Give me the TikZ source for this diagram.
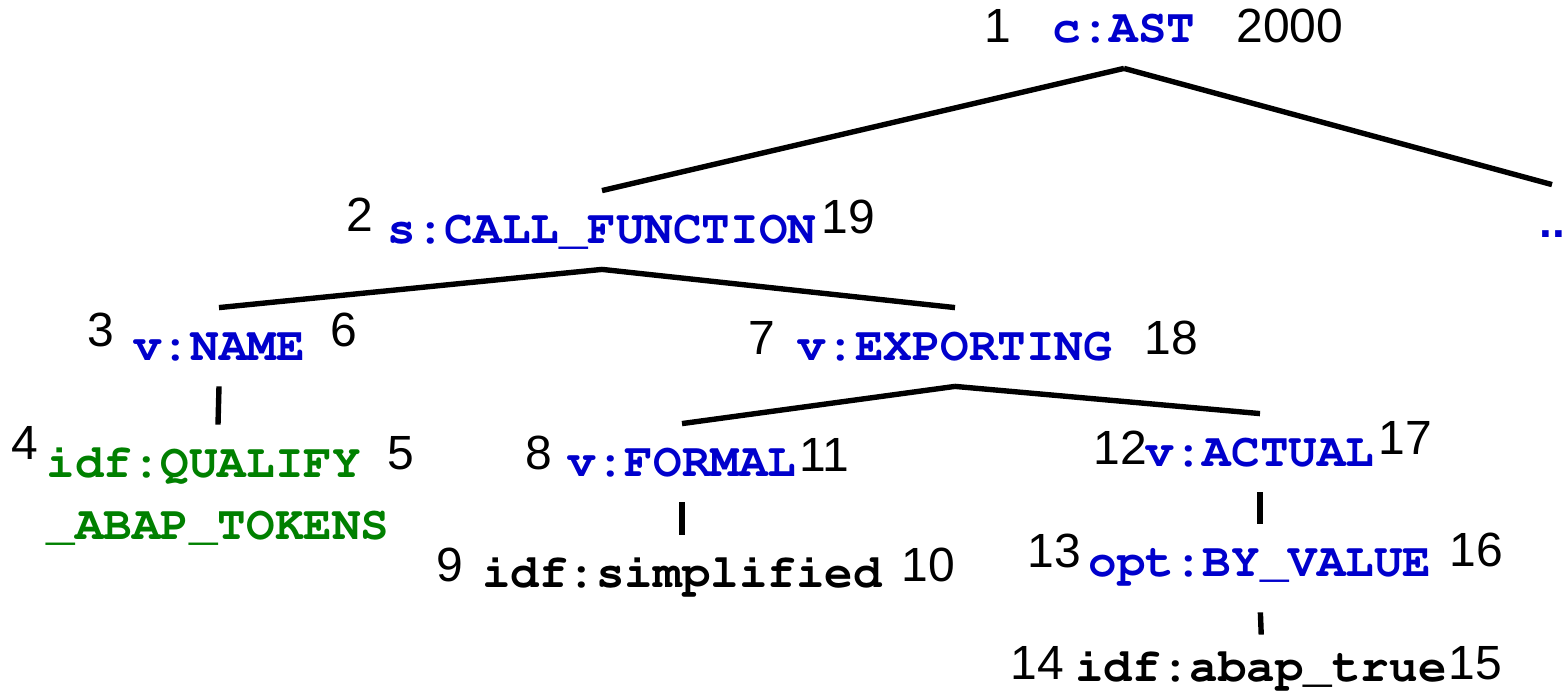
\documentclass[tikz,border=0pt]{standalone}
\usepackage[T1]{fontenc}
\usepackage{fontspec}
\setmainfont{Liberation Sans}
\usepackage{tikz}

% Courier (pcr) fuer die Knotennamen
\newcommand{\abapfont}{\fontencoding{T1}\fontfamily{pcr}\fontseries{b}\selectfont}

\definecolor{astblue}{RGB}{0,0,204}
\definecolor{idfgreen}{RGB}{0,128,0}

\tikzset{
    lbl/.style={font=\fontsize{23.8}{31}\abapfont, text height=14pt, text depth=0pt,
        inner xsep=0pt, inner ysep=12.5pt, anchor=base},
    num/.style={font=\fontsize{24}{28}\selectfont, inner sep=0pt, anchor=base},
    edge/.style={line width=2.7pt},
}

\begin{document}
\begin{tikzpicture}[x=0.5pt, y=-0.5pt]
    \useasboundingbox (0,0) rectangle (1564,694);
    % Knoten des Baums
    \node[lbl, astblue] (ast) at (1124,43) {c:AST};
    \node[lbl, astblue] (call) at (602,244) {s:CALL\_FUNCTION};
    \node[lbl, astblue, font=\bfseries\fontsize{23}{28}\selectfont] (dots) at (1552,238) {..};
    \node[lbl, astblue] (name) at (219,361) {v:NAME};
    \node[lbl, astblue] (exp) at (955,361) {v:EXPORTING};
    \node[lbl, idfgreen, text depth=34pt] (qual) at (218,478)
        {\vtop{\hbox{idf:QUALIFY}\hbox{\_ABAP\_TOKENS}}};
    \node[lbl, astblue] (formal) at (682,477) {v:FORMAL};
    \node[lbl, astblue] (actual) at (1260,467) {v:ACTUAL};
    \node[lbl] (simpl) at (682,588) {idf:simplified};
    \node[lbl, astblue] (byval) at (1260,577) {opt:BY\_VALUE};
    \node[lbl] (abtrue) at (1261,682) {idf:abap\_true};

    % Kanten
    \foreach \a/\b in {ast/call, ast/dots, call/name, call/exp, name/qual,
                       exp/formal, exp/actual, formal/simpl, actual/byval}
        \draw[edge] (\a.south) -- (\b.north);
    \draw[edge, shorten <=5pt, shorten >=-3pt] (byval.south) -- (abtrue.north);

    % Nummern links und rechts
    \foreach \n/\x/\y in {1/998/43, 2000/1290/43, 2/360/232, 19/848/234,
                          3/101/347, 6/344/347, 7/762/355, 18/1171/355,
                          4/25/460, 5/401/470, 8/539/470, 11/824/472,
                          12/1120/465, 17/1405/455, 9/450/582, 10/928/582,
                          13/1054/568, 16/1476/567, 14/1037/680, 15/1475/680}
        \node[num] (n\n) at (\x,\y) {\n};
\end{tikzpicture}
\end{document}
